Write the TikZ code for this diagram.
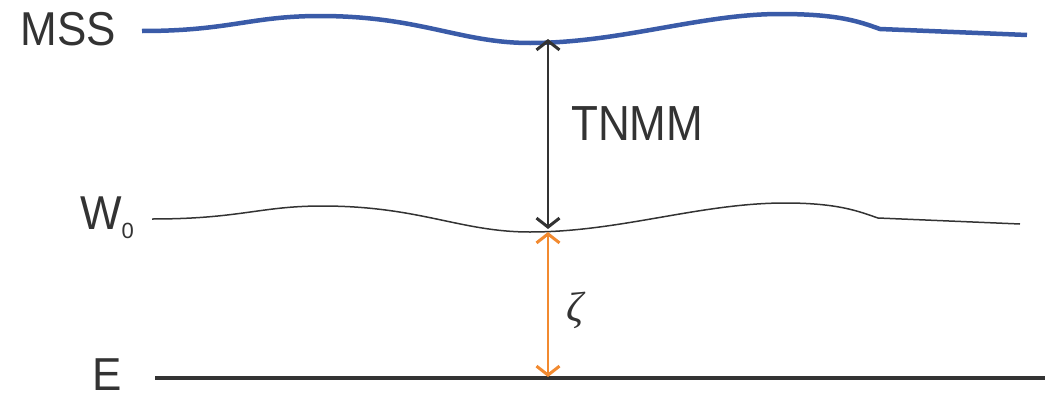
\documentclass[tikz,border=0pt]{standalone}
\usepackage{fontspec}
\setmainfont{Liberation Sans}
\newfontfamily\zetafont{Liberation Serif}
\usetikzlibrary{arrows.meta}
\definecolor{mssblue}{HTML}{3A5BA8}
\definecolor{txt}{HTML}{333333}
\definecolor{zor}{HTML}{F28A30}
\begin{document}
\begin{tikzpicture}[x=1pt,y=-1pt,
  lbl/.style={text=txt,font=\fontsize{44}{44}\selectfont,inner sep=0pt},
  dbl/.style={line width=2pt,{Straight Barb[length=9pt,width=23pt,line width=3pt]}-{Straight Barb[length=9pt,width=23pt,line width=3pt]}}]
\useasboundingbox (0,0) rectangle (1053,399);
% MSS surface
\draw[mssblue,line width=4.5pt,line join=round]
  (142,31) .. controls (230,31) and (250,16) .. (320,16)
  .. controls (420,16) and (460,43) .. (530,43)
  .. controls (620,43) and (700,14) .. (780,14)
  .. controls (840,14) and (860,22) .. (880,29) -- (1027,35);
% W0 surface
\draw[txt,line width=1.5pt]
  (152,219) .. controls (240,219) and (260,206) .. (322,206)
  .. controls (420,206) and (460,232) .. (530,232)
  .. controls (620,232) and (700,203) .. (785,203)
  .. controls (840,203) and (860,212) .. (878,218) -- (1020,224);
% Ellipsoid
\draw[txt,line width=4.5pt] (155,378) -- (1045,378);
% labels
\node[lbl,anchor=east] (mss) at (116,29) {\scalebox{1}[1.08]{MSS}};
\node[lbl,anchor=east] (w0) at (134,218) {\scalebox{1}[1.08]{W}\raisebox{-0.2em}{\fontsize{22}{22}\selectfont 0}};
\node[lbl,anchor=east] (e) at (122,375) {\scalebox{1}[1.05]{E}};
\node[lbl,anchor=west] (tnmm) at (571,124) {\scalebox{1}[1.12]{TNMM}};
\node[text=txt,font=\fontsize{42}{42}\selectfont\zetafont\itshape,inner sep=0pt] (zeta) at (575,310) {ζ};
% arrows
\coordinate (a1) at (548,39);
\coordinate (a2) at (548,229);
\coordinate (a3) at (548,232);
\coordinate (a4) at (548,377);
\draw[dbl,txt] (a1) -- (a2);
\draw[dbl,zor,line width=2.4pt] (a3) -- (a4);
\end{tikzpicture}
\end{document}
